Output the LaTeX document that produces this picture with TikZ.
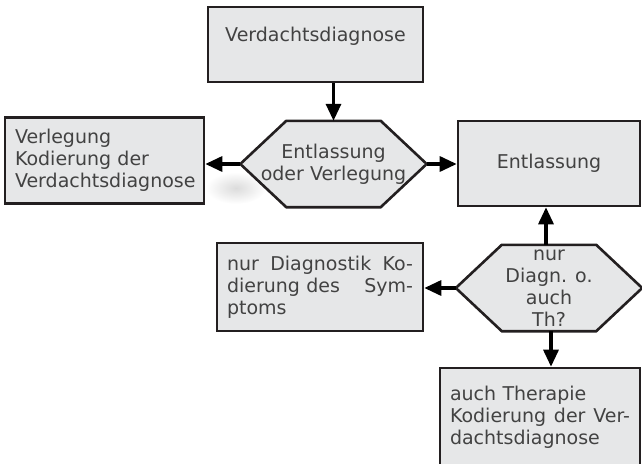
\documentclass[tikz,border=0pt]{standalone}
\usepackage{fontspec}
\setmainfont{DejaVu Sans}
\usetikzlibrary{arrows.meta,backgrounds}

\definecolor{boxfill}{HTML}{E6E7E8}
\definecolor{boxline}{HTML}{231F20}
\definecolor{boxtext}{HTML}{424242}

\tikzset{
  box/.style={draw=boxline, line width=2.6pt, fill=boxfill, text=boxtext,
    font=\fontsize{19}{22}\selectfont, inner xsep=10pt, inner ysep=0pt},
  hexa/.style={text=boxtext, font=\fontsize{19}{22}\selectfont,
    inner sep=0pt, align=center, minimum width=186pt, minimum height=86pt},
  hexline/.style={draw=boxline, line width=2.6pt, fill=boxfill, line join=miter},
  flow/.style={line width=3.2pt, -{Triangle[length=17pt,width=15pt]}}
}
% Sechseck hinter einen Entscheidungsknoten legen
\newcommand\hexback[1]{%
  \draw[hexline] ([xshift=46pt]#1.north west) -- ([xshift=-46pt]#1.north east)
    -- (#1.east) -- ([xshift=-46pt]#1.south east)
    -- ([xshift=46pt]#1.south west) -- (#1.west) -- cycle;}

\begin{document}
\begin{tikzpicture}[x=1pt, y=-1pt]
    \useasboundingbox (0,0) rectangle (642,463);

    % Kästen
    \node[box, align=center, minimum width=215pt, minimum height=75pt]
        (diag) at (315.5,44.5) {Verdachtsdiagnose\\[-9pt]\strut};
    \node[box, align=left, text width=179pt, minimum height=86pt]
        (verl) at (104.5,160.5) {Verlegung\\Kodierung der\\Verdachtsdiagnose};
    \node[box, align=center, text width=162pt, minimum height=85pt]
        (entl) at (549,163.5) {Entlassung};
    \node[box, align=left, text width=186pt, minimum height=88pt]
        (symp) at (320,287) {\makebox[186pt][s]{nur\hfill Diagnostik\hfill Ko-}\\
        \makebox[186pt][s]{dierung des\hfill Sym-}\\ptoms};
    \node[box, align=left, text width=180pt, minimum height=98pt]
        (ther) at (540,417) {auch Therapie\\
        \makebox[180pt][s]{Kodierung\hfill der\hfill Ver-}\\dachtsdiagnose};

    % Entscheidungen
    \node[hexa] (hexA) at (333.5,164) {Entlassung\\oder Verlegung};
    \node[hexa] (hexB) at (549,288) {nur\\Diagn. o.\\auch\\Th?};
    \begin{pgfonlayer}{background}
        % weicher Schatten links unter der ersten Entscheidung
        \shade[inner color=black!14, outer color=white] (236,188) ellipse (30pt and 16pt);
        \hexback{hexA}
        \hexback{hexB}
    \end{pgfonlayer}

    % Pfeile
    \draw[flow] (diag.south -| hexA.north) -- (hexA.north);
    \draw[flow] (hexA.west) -- (hexA.west -| verl.east);
    \draw[flow] (hexA.east) -- (hexA.east -| entl.west);
    \draw[flow] ([xshift=-3pt]hexB.north) -- ([xshift=-3pt]hexB.north |- entl.south);
    \draw[flow] (hexB.west) -- (hexB.west -| symp.east);
    \draw[flow] ([xshift=2pt]hexB.south) -- ([xshift=2pt]hexB.south |- ther.north);
\end{tikzpicture}
\end{document}
